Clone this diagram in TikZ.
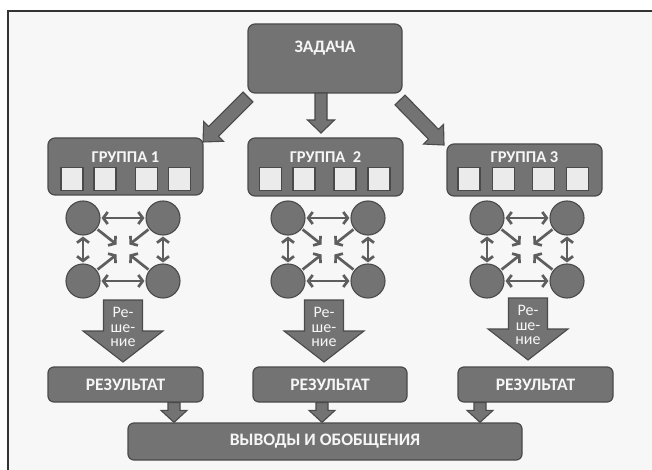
\documentclass[tikz,border=0pt]{standalone}
\usepackage{fontspec}
\setmainfont{Carlito}
\usetikzlibrary{calc,arrows.meta}
\definecolor{boxfill}{HTML}{737373}
\definecolor{boxline}{HTML}{4A4A4A}
\definecolor{bgcol}{HTML}{F7F7F7}
\definecolor{sqfill}{HTML}{EBEBEB}
\definecolor{arrcol}{HTML}{5E5E5E}
\definecolor{txtcol}{HTML}{F6F6F6}
\definecolor{framecol}{HTML}{333333}

% block arrow: style, start, end, half shaft, half head, head length
\newcommand\blockarrow[6]{%
  \coordinate (ba-h) at ($(#3)!#6!(#2)$);
  \draw[#1] ($(#2)!#4!90:(#3)$) -- ($(ba-h)!#4!90:(#3)$) -- ($(ba-h)!#5!90:(#3)$)
    -- (#3) -- ($(ba-h)!#5!-90:(#3)$) -- ($(ba-h)!#4!-90:(#3)$) -- ($(#2)!#4!-90:(#3)$) -- cycle;}

% group network: prefix, x left, x right
\newcommand\grpnet[3]{%
  \node[circ] (#1tl) at (#2,218) {};
  \node[circ] (#1tr) at (#3,218) {};
  \node[circ] (#1bl) at (#2,281) {};
  \node[circ] (#1br) at (#3,281) {};
  \coordinate (#1c) at ($(#1tl)!0.5!(#1br)$);
  \draw[inarr,tip-tip] (#1tl) -- (#1tr);
  \draw[inarr,tip-tip] (#1bl) -- (#1br);
  \draw[inarr,tip-tip] (#1tl) -- (#1bl);
  \draw[inarr,tip-tip] (#1tr) -- (#1br);
  \draw[inarr,-tip] (#1tl) -- ($(#1tl)!0.86!(#1c)$);
  \draw[inarr,-tip] (#1tr) -- ($(#1tr)!0.86!(#1c)$);
  \draw[inarr,-tip] (#1bl) -- ($(#1bl)!0.86!(#1c)$);
  \draw[inarr,-tip] (#1br) -- ($(#1br)!0.86!(#1c)$);
}

% squares row: prefix, x positions
\newcommand\sqrow[5]{%
  \node[sq] (#1a) at (#2,179) {};
  \node[sq] (#1b) at (#3,179) {};
  \node[sq] (#1c) at (#4,179) {};
  \node[sq] (#1d) at (#5,179) {};
}

% solution label: prefix, x, y of middle line
\newcommand\sollabel[3]{%
  \node[soltext] (#1a) at (#2,#3-14.5) {Ре-};
  \node[soltext] (#1b) at (#2,#3) {ше-};
  \node[soltext] (#1c) at (#2,#3+14.5) {ние};
}

\begin{document}
\begin{tikzpicture}[x=1pt,y=-1pt,
  box/.style={draw=boxline, fill=boxfill, line width=1.2pt, rounded corners=7pt, inner sep=0pt},
  boxtext/.style={text=txtcol, font=\bfseries\fontsize{17.5}{19}\selectfont},
  titletext/.style={text=txtcol, font=\bfseries\fontsize{16.5}{18}\selectfont},
  soltext/.style={text=txtcol, font=\fontsize{16}{16}\selectfont, inner sep=0pt, text height=8pt, text depth=0pt},
  sq/.style={draw=boxline, fill=sqfill, line width=1.1pt, minimum width=22pt, minimum height=23pt, inner sep=0pt},
  circ/.style={circle, draw=boxline, fill=boxfill, line width=1.1pt, minimum size=34pt, inner sep=0pt},
  tip/.tip={Straight Barb[length=4.5pt,width=12pt]},
  inarr/.style={draw=arrcol, line width=2.7pt, shorten <=1pt, shorten >=1pt},
  fat/.style={draw=boxline, fill=boxfill, line width=1.1pt, line join=miter}]
\useasboundingbox (0,0) rectangle (652,470);
\fill[white] (0,0) rectangle (652,470);
\fill[bgcol] (8,11) rectangle (652,470);
\draw[framecol, line width=1.8pt] (8,470) -- (8,11) -- (652,11);

% top task
\node[box, minimum width=154pt, minimum height=69pt] (task) at (325,58.5) {};
\node[boxtext] (tasktxt) at (325,48) {ЗАДАЧА};

% groups
\node[box, minimum width=155pt, minimum height=57pt] (g1) at (125.5,166.5) {};
\node[box, minimum width=155pt, minimum height=58pt] (g2) at (325.5,167) {};
\node[box, minimum width=155pt, minimum height=52pt] (g3) at (524.5,170) {};
\node[titletext] (g1t) at (125.5,157) {ГРУППА 1};
\node[titletext] (g2t) at (325.5,157) {ГРУППА\ \ 2};
\node[titletext] (g3t) at (524.5,157) {ГРУППА 3};
\sqrow{s1}{72}{105}{146.5}{179.5}
\sqrow{s2}{270.5}{304}{345}{379}
\sqrow{s3}{469}{503.5}{543.5}{577.5}

% arrows from task
\coordinate (ta1) at (248,97);
\coordinate (ta2) at (321,93);
\coordinate (ta3) at (400,100);
\coordinate (te1) at (203,142);
\coordinate (te2) at (321,133);
\coordinate (te3) at (444,145);
\blockarrow{fat}{ta1}{te1}{7pt}{14pt}{15pt}
\blockarrow{fat}{ta2}{te2}{6pt}{13.5pt}{13pt}
\blockarrow{fat}{ta3}{te3}{7pt}{14pt}{15pt}

% networks
\grpnet{n1}{83}{163}
\grpnet{n2}{288}{368}
\grpnet{n3}{487}{567}

% results
\node[box, rounded corners=6pt, minimum width=155pt, minimum height=35pt, boxtext] (r1) at (125.5,384.5) {РЕЗУЛЬТАТ};
\node[box, rounded corners=6pt, minimum width=154pt, minimum height=35pt, boxtext] (r2) at (330,384.5) {РЕЗУЛЬТАТ};
\node[box, rounded corners=6pt, minimum width=155pt, minimum height=35pt, boxtext] (r3) at (535.5,384.5) {РЕЗУЛЬТАТ};

% solution arrows
\coordinate (sa1) at (123,300);
\coordinate (sa2) at (324,300);
\coordinate (sa3) at (528,298);
\coordinate (se1) at (123,362);
\coordinate (se2) at (324,362);
\coordinate (se3) at (528,360);
\blockarrow{fat}{sa1}{se1}{19.5pt}{40pt}{31pt}
\blockarrow{fat}{sa2}{se2}{19.5pt}{40pt}{31pt}
\blockarrow{fat}{sa3}{se3}{19.5pt}{40pt}{31pt}
\sollabel{p1}{123}{328}
\sollabel{p2}{324}{328}
\sollabel{p3}{528}{326}

% conclusions
\node[box, rounded corners=6pt, minimum width=394pt, minimum height=37pt, boxtext] (out) at (325,441.5) {ВЫВОДЫ И ОБОБЩЕНИЯ};
\coordinate (ra1) at ($(r1.south)+(48.5,0)$);
\coordinate (ra2) at ($(r2.south)+(-8,0)$);
\coordinate (ra3) at ($(r3.south)+(-55.5,0)$);
\coordinate (re1) at (ra1 |- out.north);
\coordinate (re2) at (ra2 |- out.north);
\coordinate (re3) at (ra3 |- out.north);
\blockarrow{fat}{ra1}{re1}{6pt}{13pt}{12pt}
\blockarrow{fat}{ra2}{re2}{6pt}{13pt}{12pt}
\blockarrow{fat}{ra3}{re3}{6pt}{13pt}{12pt}
\end{tikzpicture}
\end{document}
